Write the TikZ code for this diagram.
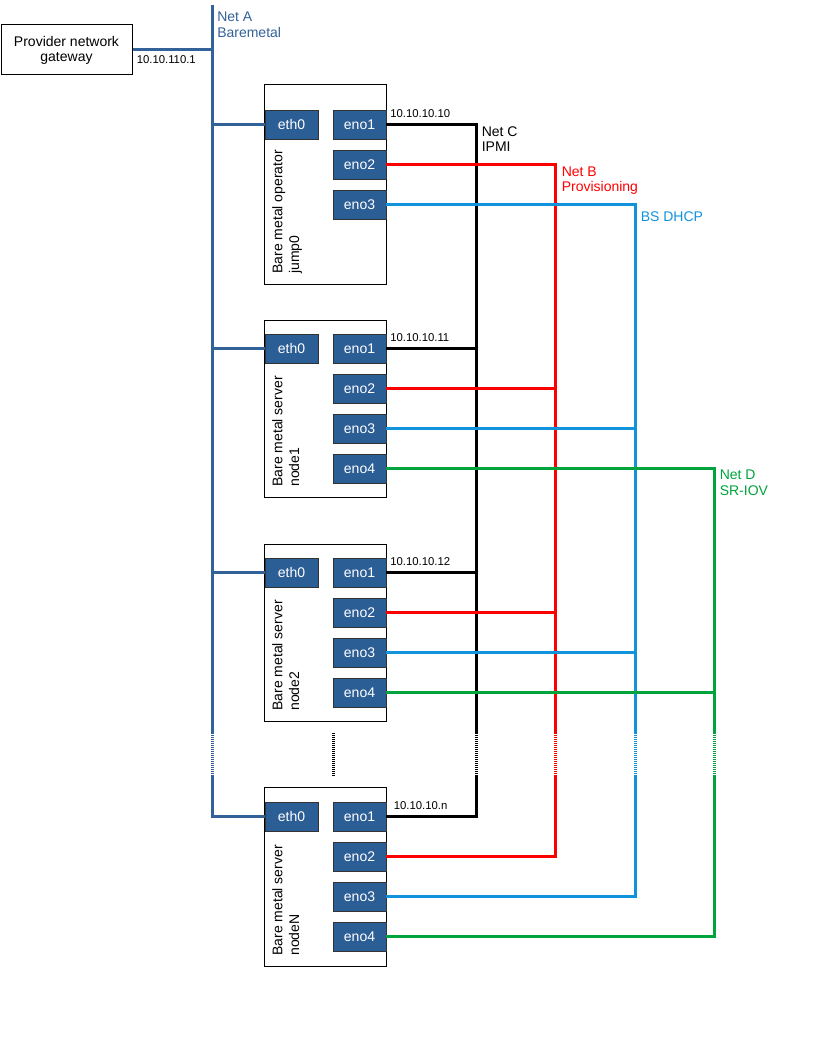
\documentclass[tikz,border=0pt]{standalone}
\usepackage{fontspec}
\setmainfont{Liberation Sans}
\usepackage{tikz}
\usetikzlibrary{positioning}

\definecolor{neta}{RGB}{51,97,153}
\definecolor{portfill}{RGB}{44,94,150}
\definecolor{netb}{RGB}{255,0,0}
\definecolor{bsdhcp}{RGB}{16,147,218}
\definecolor{netd}{RGB}{0,163,60}

\tikzset{
	server/.style={draw,line width=0.75pt,minimum width=91.5pt,inner sep=0pt},
	port/.style={draw=black!80,line width=0.6pt,fill=portfill,text=white,minimum width=39.75pt,minimum height=21.75pt,inner sep=0pt,font=\fontsize{10.5}{12}\selectfont},
	bus/.style={line width=2.25pt},
	gap/.style={line width=2.25pt,dash pattern=on 0.9pt off 0.6pt},
	ip/.style={anchor=base west,inner sep=0pt,font=\fontsize{8.5}{9}\selectfont},
	netlabel/.style={anchor=north west,inner sep=0pt,align=left,font=\fontsize{10.5}{11.5}\selectfont},
	hostlabel/.style={rotate=90,anchor=north west,inner sep=0pt,align=left,font=\fontsize{10.5}{12.5}\selectfont}
}

\begin{document}
\begin{tikzpicture}[x=0.75pt,y=-0.75pt,node distance=30pt] %pixel units
	\useasboundingbox (0,0) rectangle (816,1056);
	\node (gw) [draw,line width=0.75pt,minimum width=98.25pt,minimum height=37.5pt,align=center,font=\fontsize{10.5}{11.25}\selectfont] at (66.5,50) {Provider network\\gateway};
	% hosts
	\node[server,minimum height=149.25pt] (j) at (325,184.5) {};
	\node[server,minimum height=132.75pt] (a) at (325,408.5) {};
	\node[server,minimum height=132.75pt] (b) at (325,632.5) {};
	\node[server,minimum height=134.25pt] (n) at (325,876.5) {};
	\node[hostlabel] (jl) at ([shift={(8.5,-10.5)}]j.south west) {Bare metal operator\\jump0};
	\node[hostlabel] (al) at ([shift={(8.5,-10.5)}]a.south west) {Bare metal server\\node1};
	\node[hostlabel] (bl) at ([shift={(8.5,-10.5)}]b.south west) {Bare metal server\\node2};
	\node[hostlabel] (nl) at ([shift={(8.5,-10.5)}]n.south west) {Bare metal server\\nodeN};
	% ports
	\node[port] (jeth0) at (291.5,124.5) {eth0};
	\node[port] (jeno1) at (359.5,124.5) {eno1};
	\node[port] (jeno2) [below of=jeno1] {eno2};
	\node[port] (jeno3) [below of=jeno2] {eno3};
	\node[port] (aeth0) at (291.5,348.5) {eth0};
	\node[port] (aeno1) at (359.5,348.5) {eno1};
	\node[port] (aeno2) [below of=aeno1] {eno2};
	\node[port] (aeno3) [below of=aeno2] {eno3};
	\node[port] (aeno4) [below of=aeno3] {eno4};
	\node[port] (beth0) at (291.5,572.5) {eth0};
	\node[port] (beno1) at (359.5,572.5) {eno1};
	\node[port] (beno2) [below of=beno1] {eno2};
	\node[port] (beno3) [below of=beno2] {eno3};
	\node[port] (beno4) [below of=beno3] {eno4};
	\node[port] (neth0) at (291.5,816.5) {eth0};
	\node[port] (neno1) at (359.5,816.5) {eno1};
	\node[port] (neno2) [below of=neno1] {eno2};
	\node[port] (neno3) [below of=neno2] {eno3};
	\node[port] (neno4) [below of=neno3] {eno4};
	% bus ends
	\coordinate (atop) at (212,5);
	\coordinate (agap) at (212,733);   \coordinate (agapend) at (212,776);
	\coordinate (cgap) at (476,733);   \coordinate (cgapend) at (476,776);
	\coordinate (bgap) at (555,733);   \coordinate (bgapend) at (555,776);
	\coordinate (dgap) at (635,733);   \coordinate (dgapend) at (635,776);
	\coordinate (sgap) at (714,733);   \coordinate (sgapend) at (714,776);
	\coordinate (mgap) at (333,733);   \coordinate (mgapend) at (333,776);
	% Net A
	\draw[bus,neta] (atop) -- (agap);
	\draw[gap,neta] (agap) -- (agapend);
	\draw[bus,neta] (agapend) |- (neth0.west);
	\draw[bus,neta] (gw.east) -- (gw.east -| atop);
	\draw[bus,neta] (jeth0.west) -- (jeth0.west -| atop);
	\draw[bus,neta] (aeth0.west) -- (aeth0.west -| atop);
	\draw[bus,neta] (beth0.west) -- (beth0.west -| atop);
	% Net C
	\draw[bus] (jeno1.east) -| (cgap);
	\draw[gap] (cgap) -- (cgapend);
	\draw[bus] (cgapend) |- (neno1.east);
	\draw[bus] (aeno1.east) -- (aeno1.east -| cgap);
	\draw[bus] (beno1.east) -- (beno1.east -| cgap);
	% Net B
	\draw[bus,netb] (jeno2.east) -| (bgap);
	\draw[gap,netb] (bgap) -- (bgapend);
	\draw[bus,netb] (bgapend) |- (neno2.east);
	\draw[bus,netb] (aeno2.east) -- (aeno2.east -| bgap);
	\draw[bus,netb] (beno2.east) -- (beno2.east -| bgap);
	% BS DHCP
	\draw[bus,bsdhcp] (jeno3.east) -| (dgap);
	\draw[gap,bsdhcp] (dgap) -- (dgapend);
	\draw[bus,bsdhcp] (dgapend) |- (neno3.east);
	\draw[bus,bsdhcp] (aeno3.east) -- (aeno3.east -| dgap);
	\draw[bus,bsdhcp] (beno3.east) -- (beno3.east -| dgap);
	% Net D
	\draw[bus,netd] (aeno4.east) -| (sgap);
	\draw[gap,netd] (sgap) -- (sgapend);
	\draw[bus,netd] (sgapend) |- (neno4.east);
	\draw[bus,netd] (beno4.east) -- (beno4.east -| sgap);
	% more hosts
	\draw[gap] (mgap) -- (mgapend);
	% labels
	\node[netlabel,text=neta] (la) at (217,12) {Net A\\Baremetal};
	\node[netlabel] (lc) at (481.5,126) {Net C\\IPMI};
	\node[netlabel,text=netb] (lb) at (561.5,166.5) {Net B\\Provisioning};
	\node[netlabel,text=bsdhcp] (ld) at (640.5,211) {BS DHCP};
	\node[netlabel,text=netd] (ls) at (719.5,470) {Net D\\SR-IOV};
	\node[ip] (ipgw) at (136.5,64) {10.10.110.1};
	\node[ip] (ipj) at (390,117.5) {10.10.10.10};
	\node[ip] (ipa) at (390,341.5) {10.10.10.11};
	\node[ip] (ipb) at (390,565.5) {10.10.10.12};
	\node[ip] (ipn) at (393.5,809.5) {10.10.10.n};
\end{tikzpicture}
\end{document}
